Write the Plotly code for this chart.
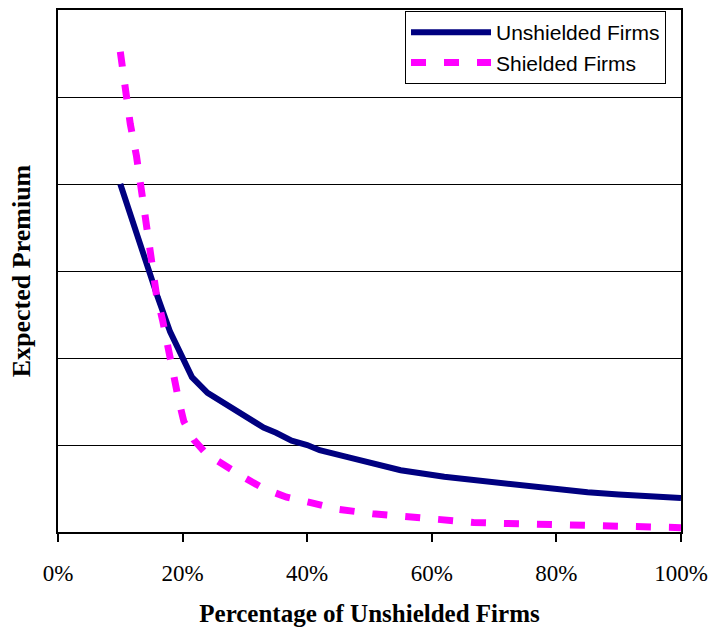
import plotly.graph_objects as go

# Share of unshielded firms (fraction) and expected premium for each group
unshielded_x = [0.10, 0.12, 0.14, 0.16, 0.18, 0.20, 0.215, 0.24, 0.27, 0.30,
                0.33, 0.35, 0.375, 0.40, 0.42, 0.465, 0.55, 0.62, 0.70, 0.76,
                0.80, 0.85, 0.90, 0.95, 1.00]
unshielded_y = [4.00, 3.55, 3.10, 2.70, 2.30, 1.98, 1.78, 1.60, 1.46, 1.34,
                1.20, 1.14, 1.05, 1.00, 0.94, 0.86, 0.71, 0.635, 0.57, 0.52,
                0.50, 0.456, 0.43, 0.41, 0.39]

shielded_x = [0.10, 0.107, 0.116, 0.126, 0.135, 0.143, 0.151, 0.158, 0.168,
              0.176, 0.183, 0.193, 0.202, 0.218, 0.238, 0.268, 0.298, 0.33,
              0.367, 0.404, 0.451, 0.505, 0.555, 0.605, 0.667, 0.707, 0.768,
              0.806, 0.879, 0.908, 0.981, 1.00]
shielded_y = [5.52, 5.12, 4.69, 4.32, 3.88, 3.50, 3.09, 2.73, 2.43,
              2.13, 1.83, 1.54, 1.27, 1.06, 0.90, 0.76, 0.63, 0.50,
              0.40, 0.34, 0.26, 0.21, 0.18, 0.14, 0.11, 0.10, 0.09,
              0.07, 0.07, 0.07, 0.05, 0.05]

x_ticks = [0, 0.2, 0.4, 0.6, 0.8, 1.0]

serif = "Liberation Serif, Times New Roman"

fig = go.Figure()
fig.add_trace(go.Scatter(
    x=unshielded_x, y=unshielded_y, mode="lines", name="Unshielded Firms",
    line=dict(color="#000080", width=6),
))
fig.add_trace(go.Scatter(
    x=shielded_x, y=shielded_y, mode="lines", name="Shielded Firms",
    line=dict(color="#FF00FF", width=7, dash="15px,18px"),
))

fig.update_layout(
    width=716, height=631,
    margin=dict(l=58, r=28, t=8, b=97),
    paper_bgcolor="white", plot_bgcolor="white",
    showlegend=True,
    legend=dict(
        x=0.557, y=0.998, xanchor="left", yanchor="top",
        bgcolor="white", bordercolor="black", borderwidth=1,
        font=dict(family="Liberation Sans, Arial", size=21, color="black"),
        itemwidth=80, tracegroupgap=0,
    ),
    xaxis=dict(
        range=[0, 1], tickvals=x_ticks, tickformat=".0%",
        showgrid=False, zeroline=False,
        showline=True, linecolor="black", linewidth=2, mirror=True,
        ticks="outside", ticklen=8, tickwidth=2, tickcolor="black",
        ticklabelstandoff=11,
        tickfont=dict(family=serif, size=23, color="black"),
        title=dict(text="<b>Percentage of Unshielded Firms</b>", standoff=20,
                   font=dict(family=serif, size=25, color="black")),
    ),
    yaxis=dict(
        range=[0, 6], dtick=1, showticklabels=False,
        showgrid=True, gridcolor="black", gridwidth=1, zeroline=False,
        showline=True, linecolor="black", linewidth=2, mirror=True,
        ticks="",
        title=dict(text="<b>Expected Premium</b>", standoff=18,
                   font=dict(family=serif, size=26, color="black")),
    ),
)

fig.write_html("out.html")
